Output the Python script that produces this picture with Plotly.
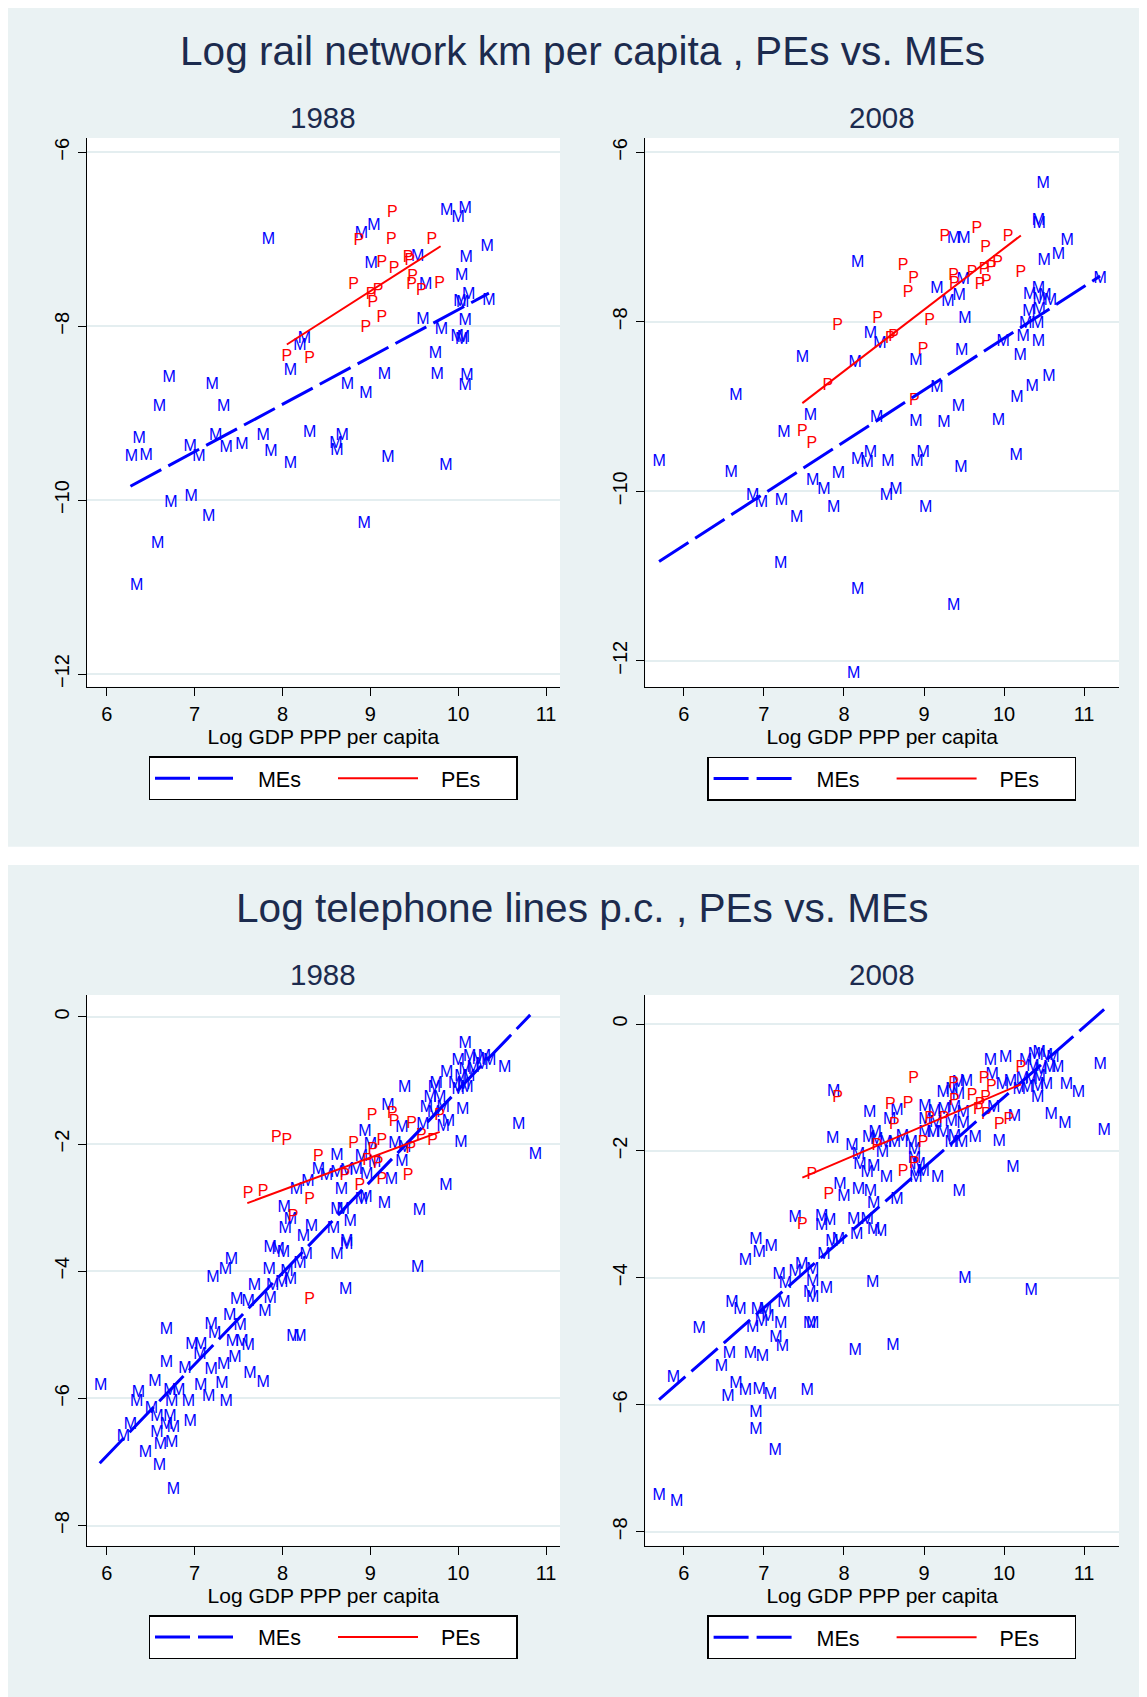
import plotly.graph_objects as go

PAGE_W, PAGE_H = 1147, 1697
OFF = 8  # the page body margin puts the figure at (8, 8)
W, H = PAGE_W - OFF, PAGE_H - OFF
FONT = "Liberation Sans, Arial, sans-serif"
NAVY = "#1c2b4e"
BG = "#eaf2f3"
NBSP = "\u00a0"

# ---------------- data ----------------
# Panel 1: Log rail network km per capita, 1988
rail88_m_x = [7.84, 8.90, 9.04, 9.87, 10.08, 10.00, 10.33, 9.01, 9.54, 10.09, 10.04, 9.63, 10.12, 10.02, 10.05, 10.35,
              9.60, 10.08, 9.81, 9.99, 10.04, 10.06, 8.25, 8.20, 8.09, 9.74, 6.71, 7.20, 8.74, 8.95, 9.16, 9.76, 10.10,
              10.08, 6.60, 7.33, 6.37, 6.28, 6.45, 7.24, 6.95, 7.05, 7.36, 7.54, 7.78, 7.87, 8.31, 8.09, 8.68, 8.61,
              8.62, 9.20, 9.86, 6.73, 6.96, 7.16, 8.93, 6.58, 6.34]
rail88_m_y = [-7.01, -6.94, -6.85, -6.67, -6.65, -6.75, -7.09, -7.28, -7.20, -7.22, -7.42, -7.52, -7.64, -7.72, -7.73, -7.71,
              -7.93, -7.94, -8.04, -8.12, -8.16, -8.14, -8.15, -8.23, -8.52, -8.32, -8.60, -8.68, -8.68, -8.78, -8.56, -8.56, -8.57,
              -8.69, -8.93, -8.93, -9.30, -9.50, -9.49, -9.26, -9.39, -9.50, -9.40, -9.37, -9.26, -9.45, -9.23, -9.58, -9.26, -9.35,
              -9.44, -9.51, -9.61, -10.03, -9.96, -10.19, -10.28, -10.51, -10.99]
rail88_p_x = [9.25, 8.87, 9.24, 9.70, 9.13, 9.27, 9.43, 9.45, 8.81, 9.48, 9.47, 9.58, 9.79, 9.09, 9.01, 9.03, 9.13, 8.95,
              8.05, 8.31]
rail88_p_y = [-6.70, -7.02, -7.01, -7.01, -7.27, -7.34, -7.22, -7.25, -7.52, -7.43, -7.52, -7.59, -7.51, -7.59, -7.64, -7.73,
              -7.90, -8.02, -8.35, -8.38]
rail88_mefit_x = [6.27, 10.35]
rail88_mefit_y = [-9.84, -7.62]
rail88_pefit_x = [8.05, 9.80]
rail88_pefit_y = [-8.21, -7.08]

# Panel 1: Log rail network km per capita, 2008
rail08_m_x = [10.49, 10.43, 10.44, 9.37, 9.50, 10.79, 10.68, 10.50, 8.17, 9.49, 11.20, 9.16, 9.30, 9.44, 10.43, 10.32,
              10.51, 10.44, 10.58, 10.31, 10.44, 9.51, 10.27, 10.42, 8.33, 8.45, 9.99, 10.24, 10.43, 7.48, 8.14, 8.90,
              9.47, 10.20, 9.16, 10.56, 10.35, 10.16, 6.65, 7.58, 8.41, 9.43, 8.90, 9.25, 9.93, 7.25, 5.69, 6.59,
              6.86, 6.97, 7.22, 7.41, 7.61, 7.75, 7.93, 7.87, 8.17, 8.33, 8.29, 8.55, 8.53, 8.65, 8.99, 8.91, 9.02,
              9.46, 10.15, 7.21, 8.17, 9.37, 8.12]
rail08_m_y = [-6.37, -6.81, -6.85, -7.02, -7.02, -7.05, -7.21, -7.28, -7.31, -7.51, -7.50, -7.61, -7.76, -7.70, -7.61, -7.68,
              -7.70, -7.74, -7.75, -7.88, -7.86, -7.97, -8.03, -8.03, -8.14, -8.26, -8.24, -8.18, -8.24, -8.43, -8.48, -8.46,
              -8.34, -8.40, -8.78, -8.65, -8.77, -8.90, -8.88, -9.11, -9.13, -9.01, -9.18, -9.19, -9.17, -9.31, -9.66, -9.78,
              -10.05, -10.14, -10.11, -10.31, -9.88, -9.99, -9.80, -10.20, -9.63, -9.55, -9.67, -9.65, -10.06, -9.99, -9.55, -9.65, -10.20,
              -9.72, -9.58, -10.86, -11.17, -11.35, -12.16]
rail08_p_x = [9.66, 9.26, 10.05, 9.77, 8.74, 8.87, 9.37, 9.38, 9.60, 9.75, 9.84, 9.92, 9.78, 9.70, 10.21, 8.80, 9.07,
              8.42, 7.92, 8.58, 8.62, 8.99, 7.80, 8.88, 7.48, 7.60]
rail08_p_y = [-6.91, -7.00, -7.00, -7.13, -7.34, -7.49, -7.46, -7.55, -7.42, -7.39, -7.37, -7.31, -7.53, -7.57, -7.42, -7.66, -7.99,
              -7.97, -8.05, -8.20, -8.18, -8.33, -8.76, -8.93, -9.30, -9.44]
rail08_mefit_x = [5.69, 11.20]
rail08_mefit_y = [-10.83, -7.46]
rail08_pefit_x = [7.48, 10.21]
rail08_pefit_y = [-8.96, -6.98]

# Panel 2: Log telephone lines p.c., 1988
tel88_m_x = [10.08, 10.00, 10.13, 10.23, 10.30, 10.36, 10.08, 10.17, 10.03, 10.12, 9.96, 10.06, 9.87, 9.75, 9.73, 10.00,
             10.10, 10.53, 10.27, 9.39, 9.68, 9.79, 9.64, 9.72, 9.83, 10.05, 9.20, 9.36, 9.60, 9.89, 9.83, 10.69, 10.03,
             10.88, 8.94, 9.00, 9.28, 9.39, 8.90, 8.62, 9.05, 9.36, 8.41, 8.50, 8.62, 8.73, 8.84, 8.96, 9.24, 8.29, 8.16,
             8.67, 9.86, 8.90, 8.95, 9.16, 9.56, 8.02, 8.62, 8.69, 8.09, 8.03, 8.33, 8.24, 8.58, 8.77, 8.73,
             7.86, 7.95, 8.01, 8.27, 8.20, 8.73, 8.62, 9.54, 7.42, 7.35, 7.21, 7.85, 8.05, 8.09, 7.68, 7.89, 7.99, 8.72,
             7.48, 7.61, 7.86, 7.80, 7.40, 7.19, 7.52, 7.23, 6.68, 6.97, 7.07, 7.43, 7.54, 7.61, 7.06, 8.12, 8.20, 6.68,
             6.89, 7.19, 7.33, 7.46, 7.63, 7.78, 5.93, 6.55, 6.36, 6.34, 6.72, 6.82, 6.74, 6.93, 7.07, 7.16, 7.31, 7.36,
             6.51, 6.57, 6.72, 6.76, 6.68, 6.95, 6.27, 6.19, 6.57, 6.61, 6.74, 6.44, 6.60, 6.76]
tel88_m_y = [-0.42, -0.70, -0.63, -0.68, -0.63, -0.70, -0.84, -0.81, -0.94, -0.94, -1.05, -1.07, -0.89, -1.05, -1.12, -1.15,
             -1.12, -0.81, -0.76, -1.12, -1.28, -1.28, -1.44, -1.52, -1.44, -1.46, -1.41, -1.75, -1.70, -1.65, -1.73, -1.70, -1.98,
             -2.17, -1.81, -2.02, -2.00, -2.07, -2.20, -2.19, -2.30, -2.28, -2.41, -2.51, -2.46, -2.43, -2.41, -2.49, -2.57, -2.59, -2.72,
             -2.72, -2.66, -2.88, -2.85, -2.94, -3.06, -3.01, -3.04, -3.04, -3.20, -3.33, -3.30, -3.46, -3.33, -3.22, -3.54,
             -3.64, -3.67, -3.72, -3.74, -3.88, -3.59, -3.74, -3.95, -3.83, -3.98, -4.11, -3.98, -4.01, -4.14, -4.24, -4.24, -4.19, -4.29,
             -4.45, -4.48, -4.44, -4.64, -4.71, -4.85, -4.86, -4.99, -4.93, -5.16, -5.16, -5.11, -5.11, -5.18, -5.32, -5.03, -5.03, -5.45,
             -5.53, -5.56, -5.48, -5.37, -5.61, -5.76, -5.80, -5.74, -5.92, -6.05, -5.89, -5.89, -6.05, -6.05, -5.80, -5.97, -5.77, -6.05,
             -6.16, -6.29, -6.29, -6.47, -6.42, -6.37, -6.42, -6.60, -6.54, -6.73, -6.70, -6.86, -7.06, -7.44]
tel88_p_x = [9.02, 9.25, 9.27, 9.47, 9.79, 7.93, 8.05, 8.81, 9.13, 9.58, 9.71, 9.46, 9.03, 8.41, 8.97, 9.09, 8.71, 9.13,
             9.43, 8.88, 7.61, 7.78, 8.31, 8.12, 8.31]
tel88_p_y = [-1.56, -1.53, -1.65, -1.69, -1.56, -1.91, -1.96, -2.00, -1.96, -1.88, -1.95, -2.08, -2.10, -2.21, -2.26, -2.31,
             -2.50, -2.56, -2.50, -2.66, -2.79, -2.75, -2.88, -3.14, -4.46]
tel88_mefit_x = [5.92, 10.82]
tel88_mefit_y = [-7.02, 0.03]
tel88_pefit_x = [7.60, 9.79]
tel88_pefit_y = [-2.93, -1.81]

# Panel 2: Log telephone lines p.c., 2008
tel08_m_x = [11.20, 11.25, 9.83, 10.02, 10.27, 10.38, 10.44, 10.53, 10.61, 10.67, 10.57, 10.46, 10.36, 10.23, 10.34, 10.44,
             10.53, 10.42, 10.29, 10.19, 10.08, 9.98, 9.85, 10.78, 10.93, 10.42, 9.43, 9.53, 9.24, 9.35, 9.43, 9.87, 7.87,
             8.66, 8.32, 8.57, 9.01, 9.13, 9.25, 9.38, 9.49, 9.01, 9.15, 9.34, 9.49, 10.13, 10.59, 10.76, 8.39, 8.41, 8.31,
             8.52, 8.63, 8.73, 8.84, 9.01, 9.11, 9.24, 9.38, 9.34, 9.47, 9.64, 9.94, 7.86, 8.10, 8.88, 8.48, 8.18, 8.88,
             8.94, 8.20, 8.37, 8.29, 8.90, 8.99, 8.53, 8.90, 9.17, 10.11, 7.95, 8.18, 8.33, 8.00, 8.37, 8.66, 9.44, 7.39,
             7.72, 7.82, 7.72, 8.12, 8.29, 8.37, 8.46, 8.16, 6.90, 7.09, 7.85, 7.93,
             6.94, 6.77, 7.75, 7.47, 7.39, 7.19, 7.27, 7.61, 7.61, 7.78, 7.57, 7.61, 8.36, 9.51, 10.34, 6.60, 6.70, 6.92,
             7.02, 7.25, 7.05, 7.21, 6.97, 6.86, 7.57, 7.61, 6.19, 7.15, 7.23, 6.57, 6.83, 6.98, 8.14, 8.61, 6.47, 5.87,
             6.65, 6.77, 6.94, 7.08, 6.55, 7.54, 6.90, 6.90, 7.14, 5.69, 5.91]
tel08_m_y = [-0.65, -1.68, -0.59, -0.54, -0.59, -0.49, -0.46, -0.51, -0.54, -0.70, -0.70, -0.72, -0.67, -0.86, -0.88, -0.83,
             -0.96, -0.99, -1.01, -1.04, -0.91, -0.96, -0.80, -0.96, -1.09, -1.17, -0.93, -0.92, -1.09, -1.04, -1.12, -1.33, -1.07,
             -1.37, -1.41, -1.51, -1.30, -1.38, -1.36, -1.33, -1.41, -1.51, -1.56, -1.54, -1.57, -1.46, -1.43, -1.57, -1.72, -1.83, -1.80,
             -1.88, -1.88, -1.78, -1.88, -1.72, -1.72, -1.72, -1.78, -1.88, -1.88, -1.80, -1.86, -1.81, -1.93, -1.99, -2.04, -2.06, -2.12,
             -2.22, -2.22, -2.25, -2.35, -2.33, -2.33, -2.43, -2.43, -2.43, -2.27, -2.54, -2.62, -2.64, -2.73, -2.83, -2.77, -2.64, -3.06,
             -3.04, -3.11, -3.19, -3.09, -3.09, -3.25, -3.27, -3.32, -3.40, -3.51, -3.43, -3.40,
             -3.61, -3.73, -3.64, -3.80, -3.90, -3.96, -4.09, -3.88, -4.06, -4.18, -4.24, -4.32, -4.08, -4.01, -4.20, -4.39, -4.50, -4.50,
             -4.51, -4.40, -4.61, -4.72, -4.69, -4.79, -4.73, -4.72, -4.81, -4.94, -5.09, -5.20, -5.20, -5.24, -5.16, -5.07, -5.41, -5.57,
             -5.67, -5.79, -5.77, -5.85, -5.88, -5.78, -6.13, -6.40, -6.72, -7.44, -7.53]
tel08_p_x = [10.21, 8.87, 9.37, 9.75, 9.84, 9.60, 9.77, 9.70, 9.38, 9.68, 9.78, 7.92, 8.58, 8.80, 9.07, 9.25, 9.94,
             10.06, 8.63, 8.41, 8.99, 8.88, 8.74, 7.60, 7.81, 7.48]
tel08_p_y = [-0.70, -0.87, -0.95, -0.86, -0.99, -1.14, -1.16, -1.28, -1.22, -1.36, -1.43, -1.17, -1.28, -1.26, -1.49, -1.49,
             -1.59, -1.52, -1.59, -1.93, -1.88, -2.20, -2.33, -2.38, -2.69, -3.17]
tel08_mefit_x = [5.69, 11.25]
tel08_mefit_y = [-5.92, 0.23]
tel08_pefit_x = [7.48, 10.21]
tel08_pefit_y = [-2.42, -0.95]

titles = ["Log rail network km per capita , PEs vs. MEs", "Log telephone lines p.c. , PEs vs. MEs"]
subtitles = ["1988", "2008", "1988", "2008"]
x_title = "Log GDP PPP per capita"
x_ticks = [6, 7, 8, 9, 10, 11]
rail_y_ticks = [-6, -8, -10, -12]
tel_y_ticks = [0, -2, -4, -6, -8]
legend_names = ["MEs", "PEs"]

# ---------------- layout helpers (page pixel -> paper) ----------------
def PX(x):
    return (x - OFF) / W

def PY(y):
    return 1 - (y - OFF) / H

# plot areas in page pixels: (left, right, top, bottom)
areas = [
    (86.7, 560.0, 138.0, 686.7),
    (645.3, 1119.0, 138.0, 687.3),
    (86.7, 560.0, 995.0, 1545.7),
    (645.3, 1119.0, 995.0, 1545.7),
]
xranges = [[5.772, 11.159], [5.518, 11.436], [5.772, 11.159], [5.518, 11.436]]
yranges = [[-12.146, -5.835], [-12.314, -5.830], [-8.316, 0.343], [-8.220, 0.457]]
yticks = [rail_y_ticks, rail_y_ticks, tel_y_ticks, tel_y_ticks]

panels = [
    (rail88_m_x, rail88_m_y, rail88_p_x, rail88_p_y, rail88_mefit_x, rail88_mefit_y, rail88_pefit_x, rail88_pefit_y),
    (rail08_m_x, rail08_m_y, rail08_p_x, rail08_p_y, rail08_mefit_x, rail08_mefit_y, rail08_pefit_x, rail08_pefit_y),
    (tel88_m_x, tel88_m_y, tel88_p_x, tel88_p_y, tel88_mefit_x, tel88_mefit_y, tel88_pefit_x, tel88_pefit_y),
    (tel08_m_x, tel08_m_y, tel08_p_x, tel08_p_y, tel08_mefit_x, tel08_mefit_y, tel08_pefit_x, tel08_pefit_y),
]
legend_ids = ["legend", "legend2", "legend3", "legend4"]
legend_pos = [(333.0, 778.3), (891.6, 778.5), (333.0, 1637.0), (891.6, 1637.2)]

fig = go.Figure()
layout = dict(
    width=W, height=H,
    margin=dict(l=0, r=0, t=0, b=0),
    paper_bgcolor=BG, plot_bgcolor="white",
    font=dict(family=FONT, color="black"),
    showlegend=True,
    shapes=[], annotations=[],
)

for i, (mx, my, px_, py_, mfx, mfy, pfx, pfy) in enumerate(panels):
    n = "" if i == 0 else str(i + 1)
    xa, ya = "x" + n, "y" + n
    lg = legend_ids[i]
    fig.add_trace(go.Scatter(x=mx, y=my, mode="text", text=["M"] * len(mx), textposition="middle center",
                             textfont=dict(color="blue", size=16, family=FONT), showlegend=False,
                             xaxis=xa, yaxis=ya, hoverinfo="skip", cliponaxis=False))
    fig.add_trace(go.Scatter(x=px_, y=py_, mode="text", text=["P"] * len(px_), textposition="middle center",
                             textfont=dict(color="red", size=16, family=FONT), showlegend=False,
                             xaxis=xa, yaxis=ya, hoverinfo="skip", cliponaxis=False))
    fig.add_trace(go.Scatter(x=mfx, y=mfy, mode="lines", name=NBSP * 3 + legend_names[0],
                             line=dict(color="blue", width=3, dash="35px,8px"),
                             xaxis=xa, yaxis=ya, legend=lg))
    fig.add_trace(go.Scatter(x=pfx, y=pfy, mode="lines", name=NBSP * 3 + legend_names[1],
                             line=dict(color="red", width=2),
                             xaxis=xa, yaxis=ya, legend=lg))

    l, r, t, b = areas[i]
    layout["xaxis" + n] = dict(
        domain=[PX(l), PX(r)], range=xranges[i], anchor=ya,
        tickvals=x_ticks, ticks="outside", ticklen=8, tickwidth=1.3, tickcolor="black",
        showline=True, linecolor="black", linewidth=1.3, showgrid=False, zeroline=False,
        tickfont=dict(size=20, family=FONT, color="black"), ticklabelstandoff=1,
        title=dict(text=x_title, font=dict(size=21, family=FONT, color="black"), standoff=0),
    )
    layout["yaxis" + n] = dict(
        domain=[PY(b), PY(t)], range=yranges[i], anchor=xa,
        tickvals=yticks[i], ticks="outside", ticklen=8, tickwidth=1.3, tickcolor="black",
        showline=True, linecolor="black", linewidth=1.3, showgrid=True, gridcolor="#e4eef0", gridwidth=2,
        zeroline=False, tickangle=-90,
        tickfont=dict(size=20, family=FONT, color="black"), ticklabelstandoff=1,
    )
    lx, ly = legend_pos[i]
    layout[lg] = dict(
        x=PX(lx), y=PY(ly), xanchor="center", yanchor="middle", orientation="h",
        bgcolor="white", bordercolor="black", borderwidth=1.5,
        font=dict(size=21.5, family=FONT, color="black"),
        itemwidth=80, entrywidth=88, entrywidthmode="pixels",
    )
    # subtitle (year)
    layout["annotations"].append(dict(
        text=subtitles[i], x=PX((l + r) / 2), y=PY(118.0 if i < 2 else 974.8), xref="paper", yref="paper",
        xanchor="center", yanchor="middle", showarrow=False, font=dict(size=29.5, family=FONT, color=NAVY)))

# panel titles
for txt, yc in zip(titles, [51.0, 907.8]):
    layout["annotations"].append(dict(
        text=txt, x=PX(582), y=PY(yc), xref="paper", yref="paper", xanchor="center", yanchor="middle",
        showarrow=False, font=dict(size=40.6, family=FONT, color=NAVY)))

# white gap between the two grey panels
layout["shapes"].append(dict(type="rect", xref="paper", yref="paper", x0=0, x1=1, y0=PY(865), y1=PY(846.7),
                             fillcolor="white", line=dict(width=0), layer="below"))

fig.update_layout(**layout)
fig.write_html("out.html")
